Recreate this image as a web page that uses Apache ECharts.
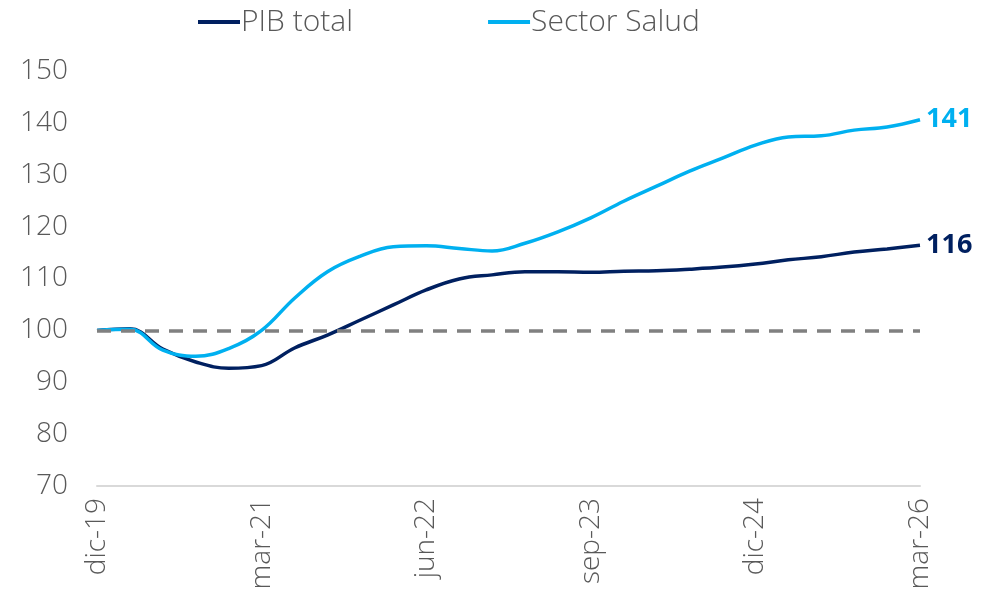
<!DOCTYPE html>
<html>
<head>
<meta charset="utf-8">
<script src="https://cdn.jsdelivr.net/npm/echarts@6/dist/echarts.min.js"></script>
<style>
  html, body { margin: 0; padding: 0; background: #fff; }
  #container { width: 997px; height: 600px; }
</style>
</head>
<body>
<div id="container"></div>
<script>
  var quarters = [
    'dic-19', 'mar-20', 'jun-20', 'sep-20', 'dic-20',
    'mar-21', 'jun-21', 'sep-21', 'dic-21',
    'mar-22', 'jun-22', 'sep-22', 'dic-22',
    'mar-23', 'jun-23', 'sep-23', 'dic-23',
    'mar-24', 'jun-24', 'sep-24', 'dic-24',
    'mar-25', 'jun-25', 'sep-25', 'dic-25',
    'mar-26'
  ];
  var pibTotal = [
    100, 100.3, 96.4, 93.9, 92.7,
    93.2, 96.6, 99.1, 102.0,
    104.9, 107.8, 109.9, 110.7,
    111.3, 111.3, 111.2, 111.4,
    111.5, 111.8, 112.2, 112.8,
    113.6, 114.2, 115.1, 115.7,
    116.4
  ];
  var sectorSalud = [
    100, 100.2, 96.2, 95.0, 96.5,
    100.0, 106.2, 111.3, 114.3,
    116.1, 116.3, 115.8, 115.3,
    116.8, 119.0, 121.7, 124.9,
    127.8, 130.7, 133.2, 135.7,
    137.3, 137.5, 138.6, 139.2,
    140.6
  ];
  var baseLevel = 100;

  var font = '"Open Sans", "Noto Sans", sans-serif';
  var textColor = '#595959';

  var chart = echarts.init(document.getElementById('container'), null, { renderer: 'canvas' });

  chart.setOption({
    animation: false,
    textStyle: { fontFamily: font },
    legend: {
      top: 2,
      left: 193,
      itemGap: 135,
      itemWidth: 42,
      itemHeight: 4,
      icon: 'rect',
      textStyle: { fontSize: 30, fontWeight: 300, color: textColor, fontFamily: font, padding: [0, 0, 0, -4] },
      data: ['PIB total', 'Sector Salud']
    },
    grid: { left: 97, right: 77, top: 71, bottom: 114 },
    xAxis: {
      type: 'category',
      data: quarters,
      boundaryGap: false,
      axisLine: { lineStyle: { color: '#d9d9d9', width: 2 } },
      axisTick: { show: false },
      axisLabel: {
        interval: 4,
        rotate: 90,
        fontSize: 28,
        fontWeight: 300,
        color: textColor,
        margin: 12
      }
    },
    yAxis: {
      type: 'value',
      min: 70,
      max: 150,
      interval: 10,
      axisLine: { show: false },
      axisTick: { show: false },
      splitLine: { show: false },
      axisLabel: { fontSize: 28, fontWeight: 300, color: textColor, margin: 29 }
    },
    series: [
      {
        name: 'PIB total',
        type: 'line',
        data: pibTotal,
        smooth: 0.4,
        showSymbol: false,
        z: 3,
        lineStyle: { color: '#002060', width: 3.5 },
        itemStyle: { color: '#002060' },
        endLabel: {
          show: true,
          formatter: function (p) { return Math.round(p.value); },
          color: '#002060',
          fontSize: 27,
          fontWeight: 'bold',
          distance: 6
        },
        markLine: {
          silent: true,
          symbol: 'none',
          label: { show: false },
          lineStyle: { color: '#808080', type: [14, 10], width: 3.5 },
          data: [{ yAxis: baseLevel }]
        }
      },
      {
        name: 'Sector Salud',
        type: 'line',
        data: sectorSalud,
        smooth: 0.4,
        showSymbol: false,
        z: 4,
        lineStyle: { color: '#00B0F0', width: 3.5 },
        itemStyle: { color: '#00B0F0' },
        endLabel: {
          show: true,
          formatter: function (p) { return Math.round(p.value); },
          color: '#00B0F0',
          fontSize: 27,
          fontWeight: 'bold',
          distance: 6
        }
      }
    ]
  });

  window.addEventListener('resize', function () { chart.resize(); });
</script>
</body>
</html>
